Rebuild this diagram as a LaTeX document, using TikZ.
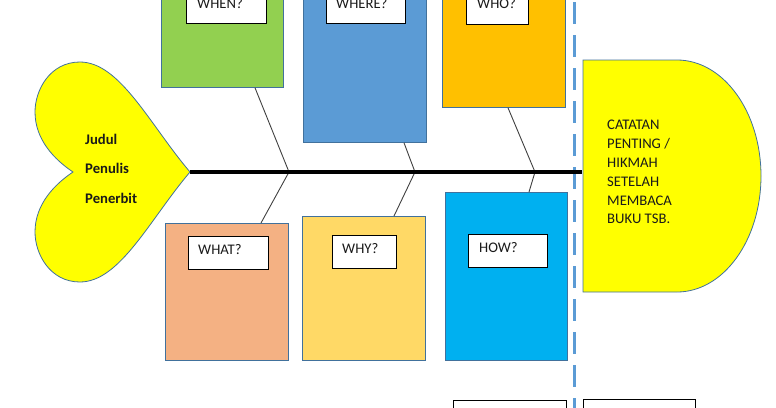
\documentclass[tikz,border=0pt]{standalone}
\usepackage{fontspec}
\setmainfont{Carlito}
\usetikzlibrary{calc}
\definecolor{cgreen}{HTML}{92D050}
\definecolor{cblue}{HTML}{5B9BD5}
\definecolor{corange}{HTML}{FFC000}
\definecolor{csalmon}{HTML}{F4B183}
\definecolor{cgold}{HTML}{FFD966}
\definecolor{ccyan}{HTML}{00B0F0}
\definecolor{bord}{HTML}{41719C}
\definecolor{bonec}{HTML}{404040}
\definecolor{txtc}{HTML}{1A1A1A}
\definecolor{cyel}{HTML}{FFFF00}
\begin{document}
\begin{tikzpicture}[x=1pt,y=-1pt,
  box/.style={draw=bord, line width=0.8pt, anchor=north west, inner sep=0pt},
  lab/.style={draw=black, line width=1pt, fill=white, anchor=north west, inner sep=0pt, minimum height=33pt},
  txt/.style={anchor=base west, inner sep=0pt, text=txtc, font=\fontsize{14.67}{18}\selectfont},
  btxt/.style={txt, font=\fontsize{14.67}{18}\selectfont\bfseries},
  bone/.style={draw=bonec, line width=0.9pt},
  shapey/.style={draw=bord, line width=0.8pt, fill=cyel},
  dashline/.style={draw=cblue, line width=3pt, dash pattern=on 22pt off 11pt},
  spine/.style={draw=black, line width=4pt}]
\useasboundingbox (0,0) rectangle (776,407);
\clip (0,0) rectangle (776,407);

% colored boxes
\node[box, fill=cgreen, minimum width=122pt, minimum height=97pt] (when) at (161,-10) {};
\node[box, fill=cblue, minimum width=123pt, minimum height=152pt] (where) at (303,-10) {};
\node[box, fill=corange, minimum width=123pt, minimum height=117pt] (who) at (442,-10) {};
\node[box, fill=csalmon, minimum width=123pt, minimum height=137pt] (what) at (165,223) {};
\node[box, fill=cgold, minimum width=123pt, minimum height=144pt] (why) at (302,216) {};
\node[box, fill=ccyan, minimum width=122pt, minimum height=168pt] (how) at (445,192) {};

% label boxes
\node[lab, minimum width=80pt] (whenlab) at (186,-10) {};
\node[lab, minimum width=79pt] (wherelab) at (326,-10) {};
\node[lab, minimum width=62pt] (wholab) at (466,-9) {};
\node[lab, minimum width=80pt] (whatlab) at (188,236) {};
\node[lab, minimum width=64pt] (whylab) at (332,235) {};
\node[lab, minimum width=79pt] (howlab) at (468,234) {};
\node[txt] (whent) at (197,8) {WHEN?};
\node[txt] (wheret) at (336,8) {WHERE?};
\node[txt] (whot) at (477,8) {WHO?};
\node[txt] (whatt) at (198,254) {WHAT?};
\node[txt] (whyt) at (342,253) {WHY?};
\node[txt] (howt) at (479,252) {HOW?};

% dashed separator
\coordinate (dtop) at (574,2);
\coordinate (dbot) at (574,412);
\draw[dashline] (dtop) -- (dbot);

% heart
\coordinate (tip) at (190,172);
\draw[shapey] (tip) .. controls (150,125) and (120,62) .. (80,62)
  .. controls (50,62) and (35,90) .. (35,112)
  .. controls (35,140) and (55,160) .. (73,172)
  .. controls (55,184) and (35,204) .. (35,232)
  .. controls (35,254) and (50,282) .. (80,282)
  .. controls (120,282) and (150,219) .. (tip) -- cycle;
\node[btxt] (judul) at (85,144) {Judul};
\node[btxt] (penulis) at (85,173) {Penulis};
\node[btxt] (penerbit) at (85,203) {Penerbit};

% spine and bones
\coordinate (j1) at (289,172);
\coordinate (j2) at (415,172);
\coordinate (j3) at (535,172);
\coordinate (spineend) at (582,172);
\draw[bone] ($(when.south west)+(94,0)$) -- (j1) -- ($(what.north west)+(96,0)$);
\draw[bone] ($(where.south west)+(101,0)$) -- (j2) -- ($(why.north west)+(92,0)$);
\draw[bone] ($(who.south west)+(66,0)$) -- (j3) -- ($(how.north west)+(84,0)$);
\draw[spine] (tip) -- (spineend);

% D shape
\draw[shapey] (583,60) -- (677,60) .. controls (723.4,60) and (761,111.9) .. (761,176)
  .. controls (761,240.1) and (723.4,292) .. (677,292) -- (583,292) -- cycle;
\node[txt] (c1) at (607,129) {CATATAN};
\node[txt] (c2) at (607,148) {PENTING /};
\node[txt] (c3) at (607,167) {HIKMAH};
\node[txt] (c4) at (607,186) {SETELAH};
\node[txt] (c5) at (607,205) {MEMBACA};
\node[txt] (c6) at (607,223) {BUKU TSB.};

% bottom boxes
\node[lab, fill=white, minimum width=113pt, minimum height=20pt] (bot1) at (453,400) {};
\node[lab, fill=white, minimum width=112pt, minimum height=20pt] (bot2) at (583,399) {};
\end{tikzpicture}
\end{document}
